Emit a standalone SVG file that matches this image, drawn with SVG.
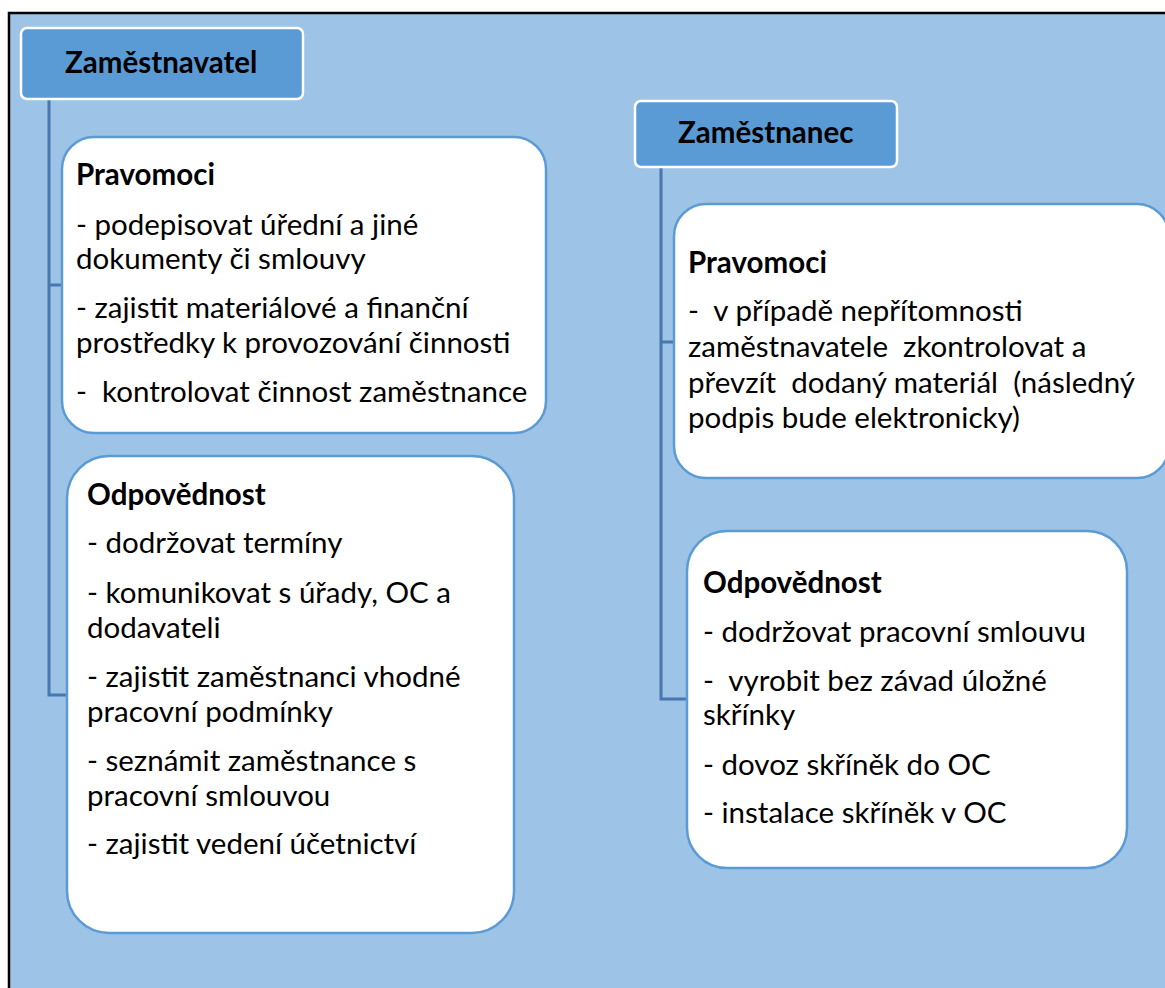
<svg xmlns="http://www.w3.org/2000/svg" width="1165" height="988" viewBox="0 0 1165 988">
<style>
  .bg { fill: #9dc3e6; stroke: #000; stroke-width: 2.5; }
  .hdr { fill: #5b9bd5; stroke: #ffffff; stroke-width: 2.5; }
  .box { fill: #ffffff; stroke: #5b9bd5; stroke-width: 2.5; }
  .conn { fill: none; stroke: #4677ae; stroke-width: 3; }
  text { font-family: Lato, "Open Sans", "Liberation Sans", sans-serif; fill: #000; font-size: 29.5px; }
  .b { font-weight: bold; }
  .h { font-weight: bold; font-size: 29.5px; }
</style>
<rect class="bg" x="9" y="13" width="1170" height="990"/>
<g id="connectors">
  <path class="conn" d="M49,99 V695 H67"/>
  <path class="conn" d="M49,285 H63"/>
  <path class="conn" d="M661,167 V699 H687"/>
  <path class="conn" d="M661,342 H675"/>
</g>
<g id="zamestnavatel">
  <rect class="hdr" x="21" y="28" width="282" height="71" rx="6"/>
  <text class="h" x="65" y="73">Zaměstnavatel</text>
</g>
<g id="zamestnavatel-pravomoci">
  <rect class="box" x="62" y="137" width="484" height="296" rx="32"/>
  <text class="b" x="76" y="185">Pravomoci</text>
  <text x="76" y="235">- podepisovat úřední a jiné</text>
  <text x="76" y="269">dokumenty či smlouvy</text>
  <text x="76" y="318">- zajistit materiálové a finanční</text>
  <text x="76" y="353">prostředky k provozování činnosti</text>
  <text x="76" y="402" xml:space="preserve">-  kontrolovat činnost zaměstnance</text>
</g>
<g id="zamestnavatel-odpovednost">
  <rect class="box" x="67" y="456" width="447" height="477" rx="42"/>
  <text class="b" x="87" y="505">Odpovědnost</text>
  <text x="87" y="553">- dodržovat termíny</text>
  <text x="87" y="603">- komunikovat s úřady, OC a</text>
  <text x="87" y="638">dodavateli</text>
  <text x="87" y="687">- zajistit zaměstnanci vhodné</text>
  <text x="87" y="722">pracovní podmínky</text>
  <text x="87" y="771">- seznámit zaměstnance s</text>
  <text x="87" y="806">pracovní smlouvou</text>
  <text x="87" y="854">- zajistit vedení účetnictví</text>
</g>
<g id="zamestnanec">
  <rect class="hdr" x="635" y="101" width="262" height="66" rx="6"/>
  <text class="h" x="678" y="143">Zaměstnanec</text>
</g>
<g id="zamestnanec-pravomoci">
  <rect class="box" x="674" y="204" width="495" height="274" rx="32"/>
  <text class="b" x="688" y="273">Pravomoci</text>
  <text x="688" y="321" xml:space="preserve">-  v případě nepřítomnosti</text>
  <text x="688" y="357" xml:space="preserve">zaměstnavatele  zkontrolovat a</text>
  <text x="688" y="393" xml:space="preserve">převzít  dodaný materiál  (následný</text>
  <text x="688" y="428">podpis bude elektronicky)</text>
</g>
<g id="zamestnanec-odpovednost">
  <rect class="box" x="687" y="531" width="440" height="337" rx="40"/>
  <text class="b" x="703" y="593">Odpovědnost</text>
  <text x="703" y="642">- dodržovat pracovní smlouvu</text>
  <text x="703" y="691" xml:space="preserve">-  vyrobit bez závad úložné</text>
  <text x="703" y="725">skřínky</text>
  <text x="703" y="775">- dovoz skříněk do OC</text>
  <text x="703" y="823">- instalace skříněk v OC</text>
</g>
</svg>
